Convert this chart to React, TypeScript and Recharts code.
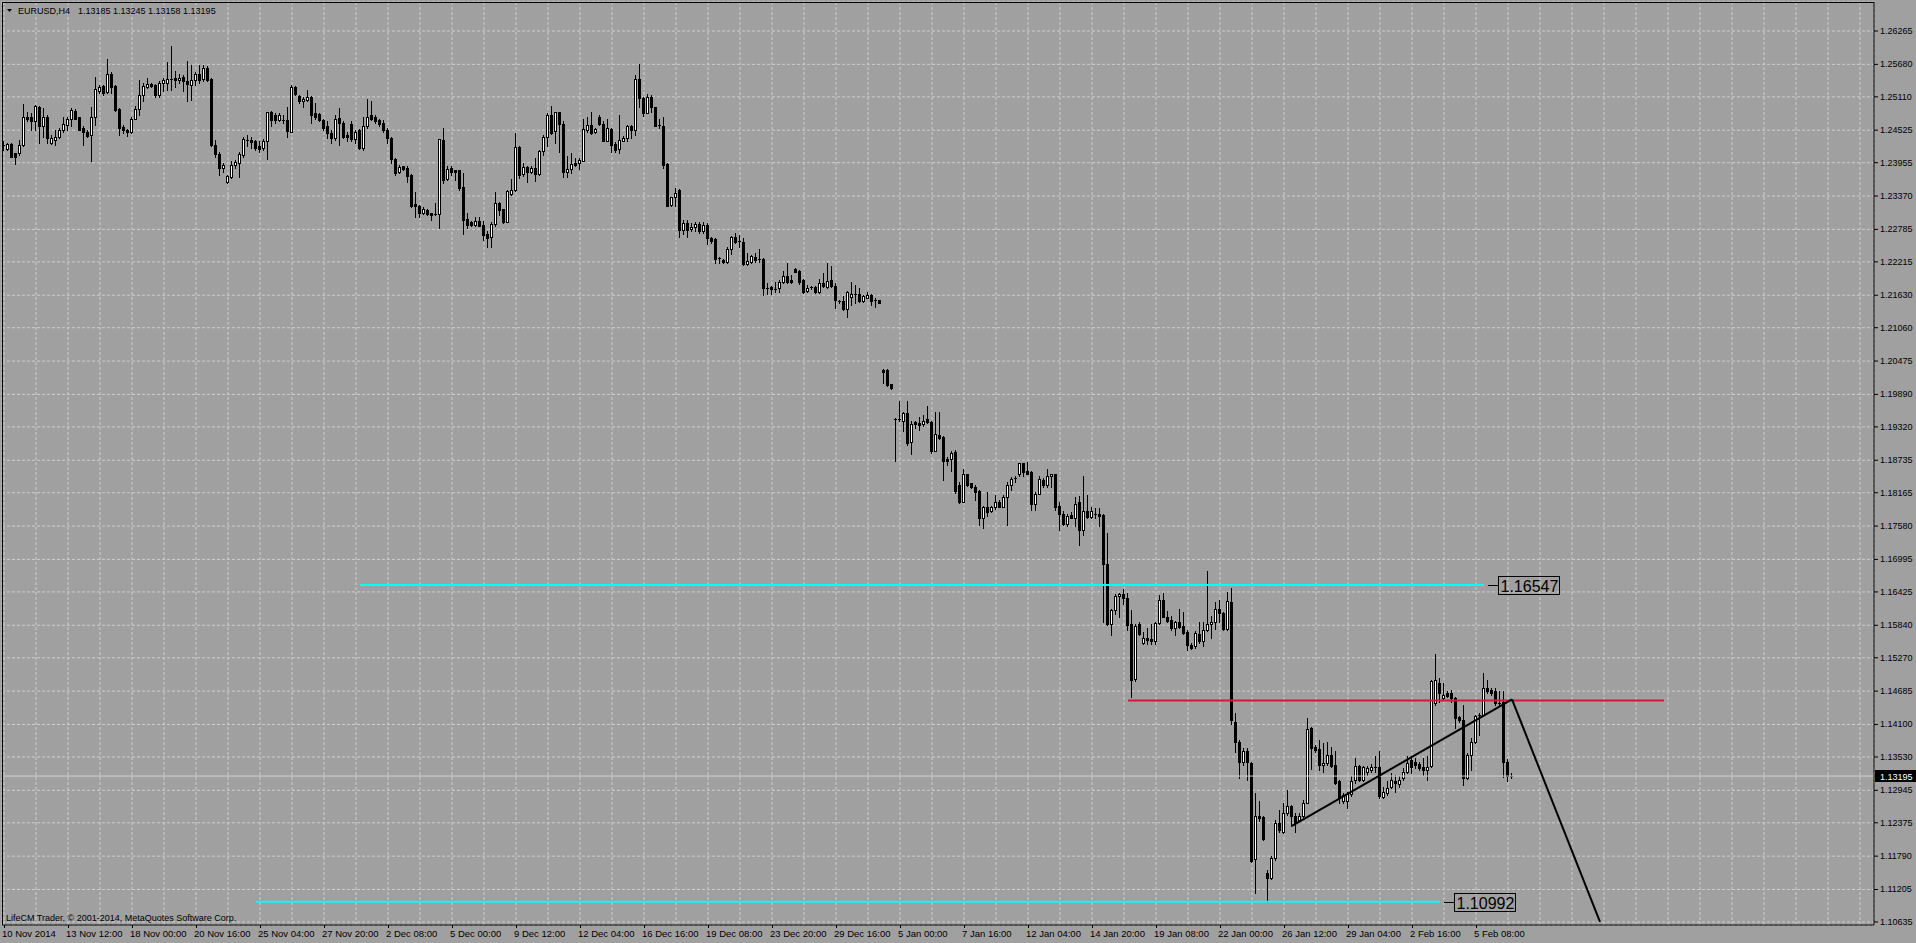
import React from "react";
import {
  ComposedChart,
  Bar,
  XAxis,
  YAxis,
  CartesianGrid,
  ReferenceLine,
  ReferenceDot,
} from "recharts";

const FONT = "Tahoma, 'Liberation Sans', Arial, sans-serif";

// H4 bars, each row is [open, high, low, close]
const novemberBars = [
  [1.2424, 1.2433, 1.2418, 1.2426], [1.2420, 1.2430, 1.2418, 1.2428], [1.2428, 1.2430, 1.2405, 1.2406],
  [1.2412, 1.2413, 1.2394, 1.2406], [1.2412, 1.2436, 1.2409, 1.2426], [1.2426, 1.2499, 1.2424, 1.2475],
  [1.2476, 1.2485, 1.2468, 1.2472], [1.2476, 1.2482, 1.2453, 1.2468], [1.2468, 1.2497, 1.2453, 1.2495],
  [1.2494, 1.2495, 1.2430, 1.2459], [1.2459, 1.2491, 1.2441, 1.2476], [1.2476, 1.2479, 1.2430, 1.2438],
  [1.2430, 1.2444, 1.2429, 1.2438], [1.2436, 1.2453, 1.2427, 1.2441], [1.2441, 1.2456, 1.2438, 1.2453],
  [1.2453, 1.2475, 1.2450, 1.2464], [1.2461, 1.2475, 1.2452, 1.2473], [1.2473, 1.2491, 1.2459, 1.2488],
  [1.2486, 1.2489, 1.2472, 1.2473], [1.2475, 1.2476, 1.2452, 1.2453], [1.2456, 1.2459, 1.2427, 1.2450],
  [1.2449, 1.2452, 1.2441, 1.2443], [1.2444, 1.2493, 1.2398, 1.2476], [1.2476, 1.2545, 1.2462, 1.2524],
  [1.2522, 1.2531, 1.2517, 1.2528], [1.2530, 1.2532, 1.2514, 1.2517], [1.2520, 1.2577, 1.2517, 1.2551],
  [1.2551, 1.2555, 1.2517, 1.2529], [1.2530, 1.2531, 1.2487, 1.2488], [1.2489, 1.2491, 1.2444, 1.2456],
  [1.2458, 1.2462, 1.2447, 1.2452], [1.2452, 1.2454, 1.2443, 1.2449], [1.2450, 1.2476, 1.2448, 1.2473],
  [1.2473, 1.2495, 1.2472, 1.2489], [1.2489, 1.2541, 1.2479, 1.2514], [1.2514, 1.2535, 1.2504, 1.2530],
  [1.2529, 1.2544, 1.2526, 1.2534], [1.2534, 1.2536, 1.2528, 1.2530], [1.2532, 1.2534, 1.2511, 1.2514],
  [1.2514, 1.2538, 1.2511, 1.2535], [1.2535, 1.2544, 1.2522, 1.2540], [1.2536, 1.2572, 1.2523, 1.2542],
  [1.2542, 1.2600, 1.2523, 1.2540], [1.2544, 1.2557, 1.2529, 1.2540], [1.2540, 1.2551, 1.2535, 1.2544],
  [1.2545, 1.2549, 1.2522, 1.2538], [1.2538, 1.2574, 1.2503, 1.2534], [1.2532, 1.2567, 1.2506, 1.2541],
  [1.2540, 1.2555, 1.2532, 1.2551], [1.2551, 1.2567, 1.2535, 1.2541], [1.2542, 1.2567, 1.2538, 1.2561],
  [1.2561, 1.2565, 1.2538, 1.2541], [1.2542, 1.2544, 1.2424, 1.2426], [1.2427, 1.2436, 1.2406, 1.2411],
  [1.2411, 1.2415, 1.2374, 1.2386], [1.2386, 1.2395, 1.2380, 1.2392], [1.2361, 1.2374, 1.2360, 1.2372],
  [1.2371, 1.2398, 1.2368, 1.2392], [1.2391, 1.2401, 1.2386, 1.2397], [1.2395, 1.2415, 1.2371, 1.2411],
  [1.2409, 1.2441, 1.2406, 1.2437], [1.2436, 1.2444, 1.2424, 1.2433], [1.2436, 1.2441, 1.2421, 1.2431],
  [1.2433, 1.2436, 1.2418, 1.2421], [1.2424, 1.2433, 1.2415, 1.2420], [1.2421, 1.2437, 1.2418, 1.2433],
  [1.2433, 1.2485, 1.2402, 1.2484], [1.2484, 1.2486, 1.2459, 1.2471], [1.2479, 1.2482, 1.2465, 1.2470],
  [1.2470, 1.2482, 1.2468, 1.2479], [1.2471, 1.2479, 1.2466, 1.2468], [1.2470, 1.2494, 1.2441, 1.2451],
  [1.2450, 1.2532, 1.2450, 1.2528], [1.2528, 1.2530, 1.2514, 1.2516], [1.2513, 1.2514, 1.2501, 1.2504],
  [1.2503, 1.2511, 1.2494, 1.2508], [1.2506, 1.2523, 1.2503, 1.2511], [1.2511, 1.2513, 1.2465, 1.2479],
  [1.2482, 1.2500, 1.2473, 1.2475], [1.2481, 1.2482, 1.2468, 1.2470], [1.2471, 1.2473, 1.2453, 1.2456],
  [1.2459, 1.2468, 1.2438, 1.2447], [1.2448, 1.2453, 1.2430, 1.2438], [1.2438, 1.2479, 1.2436, 1.2473],
  [1.2474, 1.2491, 1.2427, 1.2465], [1.2466, 1.2469, 1.2438, 1.2440], [1.2444, 1.2450, 1.2434, 1.2440],
  [1.2464, 1.2468, 1.2433, 1.2437],
];

const decemberBars = [
  [1.2437, 1.2453, 1.2430, 1.2450], [1.2452, 1.2454, 1.2419, 1.2421], [1.2421, 1.2476, 1.2418, 1.2459],
  [1.2459, 1.2508, 1.2456, 1.2476], [1.2479, 1.2503, 1.2471, 1.2473], [1.2476, 1.2479, 1.2465, 1.2468],
  [1.2470, 1.2473, 1.2460, 1.2464], [1.2465, 1.2471, 1.2450, 1.2452], [1.2453, 1.2456, 1.2430, 1.2438],
  [1.2438, 1.2441, 1.2395, 1.2402], [1.2402, 1.2403, 1.2374, 1.2377], [1.2379, 1.2392, 1.2377, 1.2388],
  [1.2389, 1.2390, 1.2382, 1.2384], [1.2386, 1.2389, 1.2361, 1.2372], [1.2374, 1.2376, 1.2318, 1.2320],
  [1.2323, 1.2344, 1.2301, 1.2320], [1.2320, 1.2322, 1.2300, 1.2308], [1.2307, 1.2317, 1.2306, 1.2314],
  [1.2313, 1.2314, 1.2303, 1.2305], [1.2307, 1.2308, 1.2295, 1.2303], [1.2306, 1.2325, 1.2303, 1.2304],
  [1.2305, 1.2437, 1.2281, 1.2437], [1.2436, 1.2456, 1.2360, 1.2365], [1.2367, 1.2389, 1.2365, 1.2384],
  [1.2386, 1.2389, 1.2374, 1.2380], [1.2382, 1.2383, 1.2365, 1.2380], [1.2382, 1.2383, 1.2348, 1.2351],
  [1.2352, 1.2377, 1.2271, 1.2295], [1.2296, 1.2308, 1.2281, 1.2287], [1.2291, 1.2294, 1.2285, 1.2287],
  [1.2287, 1.2300, 1.2285, 1.2294], [1.2294, 1.2301, 1.2284, 1.2285], [1.2287, 1.2294, 1.2260, 1.2268],
  [1.2271, 1.2275, 1.2247, 1.2264], [1.2265, 1.2292, 1.2247, 1.2288], [1.2288, 1.2344, 1.2284, 1.2325],
  [1.2325, 1.2327, 1.2304, 1.2313], [1.2314, 1.2315, 1.2290, 1.2291], [1.2292, 1.2348, 1.2291, 1.2346],
  [1.2341, 1.2367, 1.2339, 1.2348], [1.2347, 1.2447, 1.2345, 1.2423], [1.2423, 1.2424, 1.2368, 1.2374],
  [1.2376, 1.2395, 1.2372, 1.2388], [1.2388, 1.2390, 1.2361, 1.2379], [1.2380, 1.2389, 1.2378, 1.2386],
  [1.2386, 1.2403, 1.2364, 1.2376], [1.2376, 1.2418, 1.2374, 1.2416], [1.2416, 1.2444, 1.2409, 1.2440],
  [1.2440, 1.2482, 1.2424, 1.2479], [1.2479, 1.2495, 1.2446, 1.2448], [1.2451, 1.2485, 1.2430, 1.2484],
  [1.2484, 1.2485, 1.2414, 1.2464], [1.2464, 1.2468, 1.2371, 1.2380], [1.2380, 1.2407, 1.2370, 1.2385],
  [1.2384, 1.2412, 1.2378, 1.2393], [1.2395, 1.2403, 1.2389, 1.2392], [1.2395, 1.2403, 1.2384, 1.2400],
  [1.2399, 1.2473, 1.2398, 1.2454], [1.2453, 1.2476, 1.2450, 1.2462], [1.2462, 1.2484, 1.2446, 1.2448],
  [1.2450, 1.2457, 1.2448, 1.2455], [1.2476, 1.2479, 1.2462, 1.2464], [1.2464, 1.2468, 1.2433, 1.2434],
  [1.2434, 1.2472, 1.2433, 1.2457], [1.2455, 1.2456, 1.2415, 1.2426], [1.2428, 1.2431, 1.2415, 1.2418],
  [1.2419, 1.2479, 1.2413, 1.2436], [1.2434, 1.2442, 1.2433, 1.2439], [1.2438, 1.2462, 1.2433, 1.2460],
  [1.2460, 1.2462, 1.2438, 1.2452], [1.2452, 1.2549, 1.2444, 1.2542], [1.2542, 1.2569, 1.2494, 1.2509],
  [1.2509, 1.2511, 1.2478, 1.2483], [1.2483, 1.2516, 1.2482, 1.2510], [1.2510, 1.2514, 1.2485, 1.2493],
  [1.2493, 1.2494, 1.2459, 1.2460], [1.2461, 1.2473, 1.2456, 1.2459], [1.2460, 1.2476, 1.2386, 1.2392],
  [1.2393, 1.2395, 1.2319, 1.2320], [1.2322, 1.2336, 1.2320, 1.2335], [1.2335, 1.2351, 1.2319, 1.2343],
  [1.2347, 1.2350, 1.2266, 1.2278], [1.2278, 1.2295, 1.2270, 1.2290], [1.2290, 1.2295, 1.2266, 1.2277],
  [1.2279, 1.2290, 1.2275, 1.2283], [1.2282, 1.2292, 1.2275, 1.2288], [1.2288, 1.2292, 1.2272, 1.2275],
  [1.2275, 1.2292, 1.2272, 1.2286], [1.2286, 1.2290, 1.2252, 1.2263], [1.2264, 1.2266, 1.2255, 1.2258],
  [1.2262, 1.2264, 1.2219, 1.2226], [1.2228, 1.2230, 1.2219, 1.2226], [1.2225, 1.2226, 1.2219, 1.2221],
  [1.2222, 1.2247, 1.2219, 1.2244], [1.2244, 1.2267, 1.2235, 1.2266], [1.2265, 1.2272, 1.2254, 1.2257],
  [1.2259, 1.2269, 1.2248, 1.2256], [1.2257, 1.2263, 1.2216, 1.2217], [1.2218, 1.2237, 1.2216, 1.2223],
  [1.2222, 1.2234, 1.2219, 1.2231], [1.2230, 1.2237, 1.2222, 1.2224], [1.2227, 1.2244, 1.2222, 1.2225],
  [1.2226, 1.2228, 1.2164, 1.2175], [1.2176, 1.2184, 1.2165, 1.2174], [1.2178, 1.2180, 1.2166, 1.2174],
  [1.2174, 1.2187, 1.2168, 1.2172], [1.2175, 1.2190, 1.2169, 1.2186], [1.2187, 1.2206, 1.2184, 1.2197],
  [1.2197, 1.2219, 1.2184, 1.2187], [1.2189, 1.2199, 1.2184, 1.2186], [1.2209, 1.2210, 1.2203, 1.2204],
  [1.2206, 1.2208, 1.2182, 1.2186], [1.2190, 1.2192, 1.2167, 1.2169], [1.2171, 1.2181, 1.2169, 1.2175],
  [1.2178, 1.2179, 1.2174, 1.2175], [1.2178, 1.2180, 1.2167, 1.2168], [1.2168, 1.2192, 1.2167, 1.2184],
  [1.2184, 1.2202, 1.2178, 1.2180], [1.2178, 1.2219, 1.2175, 1.2188], [1.2190, 1.2215, 1.2178, 1.2180],
  [1.2180, 1.2184, 1.2141, 1.2155], [1.2153, 1.2155, 1.2149, 1.2151], [1.2153, 1.2162, 1.2137, 1.2138],
  [1.2139, 1.2171, 1.2125, 1.2169], [1.2160, 1.2186, 1.2146, 1.2165], [1.2165, 1.2181, 1.2149, 1.2163],
];

const januaryBars = [
  [1.2165, 1.2175, 1.2151, 1.2152], [1.2152, 1.2164, 1.2151, 1.2161], [1.2159, 1.2169, 1.2158, 1.2164],
  [1.2164, 1.2166, 1.2146, 1.2153], [1.2155, 1.2158, 1.2143, 1.2152], [1.2154, 1.2155, 1.2149, 1.2150],
  [1.2031, 1.2034, 1.2009, 1.2029], [1.2031, 1.2033, 1.2004, 1.2005], [1.2007, 1.2008, 1.1998, 1.2000],
  [1.1946, 1.1947, 1.1873, 1.1944], [1.1946, 1.1977, 1.1942, 1.1944], [1.1942, 1.1959, 1.1924, 1.1956],
  [1.1956, 1.1977, 1.1901, 1.1903], [1.1906, 1.1942, 1.1885, 1.1937], [1.1940, 1.1942, 1.1930, 1.1937],
  [1.1939, 1.1949, 1.1927, 1.1936], [1.1937, 1.1953, 1.1933, 1.1943], [1.1945, 1.1968, 1.1939, 1.1941],
  [1.1941, 1.1943, 1.1886, 1.1890], [1.1890, 1.1959, 1.1889, 1.1920], [1.1918, 1.1959, 1.1910, 1.1912],
  [1.1914, 1.1916, 1.1839, 1.1872], [1.1876, 1.1880, 1.1866, 1.1873], [1.1876, 1.1889, 1.1854, 1.1886],
  [1.1888, 1.1892, 1.1816, 1.1819], [1.1830, 1.1836, 1.1799, 1.1801], [1.1801, 1.1859, 1.1800, 1.1849],
  [1.1849, 1.1850, 1.1828, 1.1830], [1.1833, 1.1834, 1.1824, 1.1826], [1.1827, 1.1830, 1.1803, 1.1818],
  [1.1820, 1.1822, 1.1760, 1.1773], [1.1773, 1.1794, 1.1754, 1.1791], [1.1791, 1.1817, 1.1776, 1.1782],
  [1.1785, 1.1794, 1.1782, 1.1791], [1.1791, 1.1812, 1.1788, 1.1801], [1.1801, 1.1803, 1.1791, 1.1792],
  [1.1792, 1.1812, 1.1791, 1.1809], [1.1809, 1.1836, 1.1760, 1.1830], [1.1830, 1.1844, 1.1821, 1.1840],
  [1.1843, 1.1846, 1.1836, 1.1840], [1.1849, 1.1869, 1.1846, 1.1868], [1.1868, 1.1869, 1.1846, 1.1853],
  [1.1855, 1.1870, 1.1849, 1.1850], [1.1853, 1.1855, 1.1786, 1.1797], [1.1797, 1.1818, 1.1786, 1.1815],
  [1.1815, 1.1846, 1.1814, 1.1840], [1.1838, 1.1843, 1.1827, 1.1830], [1.1830, 1.1859, 1.1827, 1.1846],
  [1.1846, 1.1850, 1.1827, 1.1849], [1.1849, 1.1850, 1.1786, 1.1791], [1.1794, 1.1800, 1.1752, 1.1779],
  [1.1780, 1.1785, 1.1760, 1.1761], [1.1761, 1.1779, 1.1758, 1.1776], [1.1778, 1.1782, 1.1772, 1.1773],
  [1.1773, 1.1809, 1.1758, 1.1797], [1.1800, 1.1810, 1.1725, 1.1752], [1.1752, 1.1846, 1.1743, 1.1785],
  [1.1785, 1.1812, 1.1773, 1.1774], [1.1774, 1.1791, 1.1773, 1.1784], [1.1780, 1.1790, 1.1773, 1.1779],
  [1.1779, 1.1790, 1.1758, 1.1776], [1.1777, 1.1779, 1.1589, 1.1692], [1.1692, 1.1746, 1.1585, 1.1586],
  [1.1586, 1.1613, 1.1567, 1.1611], [1.1611, 1.1639, 1.1603, 1.1635], [1.1635, 1.1641, 1.1598, 1.1639],
  [1.1639, 1.1647, 1.1622, 1.1631], [1.1631, 1.1640, 1.1575, 1.1585], [1.1586, 1.1610, 1.1459, 1.1488],
  [1.1489, 1.1586, 1.1486, 1.1583], [1.1587, 1.1589, 1.1567, 1.1568], [1.1553, 1.1572, 1.1551, 1.1562],
  [1.1562, 1.1579, 1.1551, 1.1559], [1.1560, 1.1586, 1.1552, 1.1557], [1.1557, 1.1589, 1.1551, 1.1588],
  [1.1588, 1.1637, 1.1586, 1.1629], [1.1629, 1.1640, 1.1598, 1.1599], [1.1599, 1.1609, 1.1589, 1.1592],
  [1.1593, 1.1601, 1.1575, 1.1580], [1.1579, 1.1592, 1.1567, 1.1589], [1.1589, 1.1613, 1.1579, 1.1581],
  [1.1583, 1.1607, 1.1569, 1.1571], [1.1572, 1.1575, 1.1541, 1.1550], [1.1550, 1.1553, 1.1542, 1.1544],
  [1.1547, 1.1574, 1.1545, 1.1571], [1.1569, 1.1589, 1.1553, 1.1556], [1.1556, 1.1589, 1.1547, 1.1575],
  [1.1575, 1.1679, 1.1574, 1.1586], [1.1586, 1.1601, 1.1562, 1.1589], [1.1589, 1.1625, 1.1577, 1.1613],
  [1.1613, 1.1628, 1.1589, 1.1605], [1.1605, 1.1607, 1.1575, 1.1577], [1.1577, 1.1643, 1.1575, 1.1626],
  [1.1625, 1.1650, 1.1411, 1.1417], [1.1415, 1.1430, 1.1362, 1.1379], [1.1380, 1.1383, 1.1316, 1.1345],
  [1.1345, 1.1368, 1.1339, 1.1364], [1.1364, 1.1368, 1.1313, 1.1345], [1.1343, 1.1345, 1.1168, 1.1170],
  [1.1174, 1.1289, 1.1114, 1.1249], [1.1249, 1.1275, 1.1240, 1.1246], [1.1247, 1.1249, 1.1208, 1.1209],
  [1.1150, 1.1155, 1.1099, 1.1141], [1.1141, 1.1179, 1.1139, 1.1176], [1.1176, 1.1243, 1.1173, 1.1238],
  [1.1238, 1.1260, 1.1222, 1.1225], [1.1222, 1.1272, 1.1219, 1.1254], [1.1254, 1.1295, 1.1251, 1.1267],
  [1.1267, 1.1269, 1.1231, 1.1249], [1.1250, 1.1254, 1.1222, 1.1237], [1.1243, 1.1254, 1.1240, 1.1249],
  [1.1249, 1.1278, 1.1247, 1.1273], [1.1273, 1.1421, 1.1272, 1.1402], [1.1403, 1.1406, 1.1331, 1.1368],
  [1.1370, 1.1374, 1.1362, 1.1365], [1.1367, 1.1383, 1.1330, 1.1339], [1.1339, 1.1377, 1.1327, 1.1343],
  [1.1343, 1.1380, 1.1339, 1.1357], [1.1357, 1.1371, 1.1335, 1.1337], [1.1339, 1.1363, 1.1306, 1.1307],
  [1.1310, 1.1313, 1.1272, 1.1281], [1.1275, 1.1289, 1.1273, 1.1287], [1.1275, 1.1292, 1.1263, 1.1288],
  [1.1288, 1.1319, 1.1284, 1.1310], [1.1312, 1.1351, 1.1307, 1.1337], [1.1337, 1.1339, 1.1310, 1.1313],
  [1.1313, 1.1337, 1.1310, 1.1335], [1.1326, 1.1337, 1.1322, 1.1334], [1.1330, 1.1341, 1.1327, 1.1336],
  [1.1336, 1.1354, 1.1327, 1.1333], [1.1336, 1.1363, 1.1281, 1.1284], [1.1283, 1.1301, 1.1281, 1.1292],
  [1.1290, 1.1310, 1.1287, 1.1298], [1.1301, 1.1325, 1.1298, 1.1312],
];

const februaryBars = [
  [1.1310, 1.1322, 1.1292, 1.1307], [1.1306, 1.1319, 1.1301, 1.1313], [1.1316, 1.1333, 1.1313, 1.1327],
  [1.1327, 1.1354, 1.1325, 1.1342], [1.1347, 1.1354, 1.1325, 1.1336], [1.1345, 1.1351, 1.1333, 1.1339],
  [1.1341, 1.1345, 1.1330, 1.1333], [1.1336, 1.1351, 1.1322, 1.1330], [1.1330, 1.1354, 1.1313, 1.1336],
  [1.1337, 1.1488, 1.1336, 1.1487], [1.1447, 1.1534, 1.1444, 1.1488], [1.1483, 1.1491, 1.1450, 1.1465],
  [1.1456, 1.1482, 1.1453, 1.1462], [1.1466, 1.1468, 1.1458, 1.1460], [1.1466, 1.1471, 1.1450, 1.1456],
  [1.1456, 1.1459, 1.1403, 1.1421], [1.1423, 1.1425, 1.1415, 1.1418], [1.1418, 1.1444, 1.1304, 1.1316],
  [1.1316, 1.1360, 1.1314, 1.1357], [1.1357, 1.1386, 1.1330, 1.1380], [1.1380, 1.1427, 1.1377, 1.1425],
  [1.1424, 1.1430, 1.1392, 1.1427], [1.1427, 1.1500, 1.1424, 1.1474], [1.1474, 1.1488, 1.1465, 1.1468],
  [1.1471, 1.1474, 1.1462, 1.1465], [1.1468, 1.1474, 1.1444, 1.1447], [1.1448, 1.1468, 1.1444, 1.1446],
  [1.1450, 1.1468, 1.1318, 1.1345], [1.1345, 1.1349, 1.1310, 1.1319], [1.13185, 1.13245, 1.13158, 1.13195],
];

// one label every 16 bars
const timeLabels = [
  "10 Nov 2014", "13 Nov 12:00", "18 Nov 00:00", "20 Nov 16:00", "25 Nov 04:00", "27 Nov 20:00",
  "2 Dec 08:00", "5 Dec 00:00", "9 Dec 12:00", "12 Dec 04:00", "16 Dec 16:00", "19 Dec 08:00",
  "23 Dec 20:00", "29 Dec 16:00", "5 Jan 00:00", "7 Jan 16:00", "12 Jan 04:00", "14 Jan 20:00",
  "19 Jan 08:00", "22 Jan 00:00", "26 Jan 12:00", "29 Jan 04:00", "2 Feb 16:00", "5 Feb 08:00",
];

const priceTicks = [
  1.26265, 1.2568, 1.2511, 1.24525, 1.23955, 1.2337, 1.22785, 1.22215, 1.2163, 1.2106,
  1.20475, 1.1989, 1.1932, 1.18735, 1.18165, 1.1758, 1.16995, 1.16425, 1.1584, 1.1527,
  1.14685, 1.141, 1.1353, 1.12945, 1.12375, 1.1179, 1.11205, 1.10635,
];

const symbolName = "EURUSD,H4";
const lastQuote = [1.13185, 1.13245, 1.13158, 1.13195];
const bidPrice = 1.13195;
const footerText = "LifeCM Trader, \u00a9 2001-2014, MetaQuotes Software Corp.";

// cyan horizontal levels with their price tags
const levelLines = [
  { price: 1.16547, from: 89, to: 370 },
  { price: 1.10992, from: 63, to: 359 },
];
const resistanceLine = { price: 1.1452, from: 281, to: 415 };
const trendPoints = [
  { k: 322, price: 1.1232 },
  { k: 377, price: 1.1454 },
  { k: 399, price: 1.10635 },
];

const SLOTS = 468;
const bars = [...novemberBars, ...decemberBars, ...januaryBars, ...februaryBars];
const data = Array.from({ length: SLOTS }, (_, k) => {
  const b = bars[k];
  if (!b) return { k };
  return { k, open: b[0], high: b[1], low: b[2], close: b[3], range: [b[2], b[1]] };
});
const gridTicks = Array.from({ length: 59 }, (_, i) => i * 8);

function Candle(props: any) {
  const { x, y, height, payload } = props;
  if (!payload || payload.open == null || !isFinite(y)) return null;
  const { open, high, low, close } = payload;
  const top = Math.min(y, y + height);
  const h = Math.abs(height);
  const scale = high > low ? h / (high - low) : 0;
  const py = (p: number) => top + (high - p) * scale;
  const x0 = Math.round(x);
  const wx = x0 + 1.5;
  const bTop = Math.round(py(Math.max(open, close)));
  const bBot = Math.round(py(Math.min(open, close)));
  const up = close >= open;
  let body;
  if (bBot - bTop < 2) {
    body = <rect x={x0} y={bTop} width={3} height={1} fill="#000" />;
  } else if (up) {
    body = (
      <rect x={x0 + 0.5} y={bTop + 0.5} width={2} height={bBot - bTop} fill="#fff" stroke="#000" strokeWidth={1} />
    );
  } else {
    body = <rect x={x0} y={bTop} width={3} height={bBot - bTop + 1} fill="#000" />;
  }
  return (
    <g>
      <line x1={wx} x2={wx} y1={Math.round(top)} y2={Math.round(top + h) + 1} stroke="#000" strokeWidth={1} />
      {body}
    </g>
  );
}

function TimeTick({ x, y, payload }: any) {
  const v = payload.value as number;
  if (v % 16 !== 0) return null;
  const label = timeLabels[v / 16];
  if (!label) return null;
  const tx = Math.round(x) + 0.5;
  return (
    <g>
      <line x1={tx} x2={tx} y1={y} y2={y + 3} stroke="#000" />
      <text x={x - 2} y={y + 12} fontSize={9.5} fontFamily={FONT} fill="#000">
        {label}
      </text>
    </g>
  );
}

function PriceTick({ x, y, payload }: any) {
  return (
    <text x={x} y={y + 3} fontSize={9} fontFamily={FONT} fill="#000">
      {Number(payload.value).toFixed(5)}
    </text>
  );
}

function LevelTag({ cx, cy, text }: any) {
  if (cx == null || cy == null) return null;
  const yy = Math.round(cy) + 0.5;
  const bx = Math.round(cx) + 14.5;
  return (
    <g>
      <line x1={cx + 4} x2={bx} y1={yy} y2={yy} stroke="#000" />
      <rect x={bx} y={yy - 9} width={61} height={18} fill="none" stroke="#000" />
      <text x={bx + 2} y={yy + 6} fontSize={16} fontFamily={FONT} fill="#000">
        {text}
      </text>
    </g>
  );
}

function BidTag({ cx, cy }: any) {
  if (cx == null || cy == null) return null;
  const yy = Math.round(cy);
  return (
    <g>
      <rect x={cx + 3} y={yy - 6} width={42} height={12} fill="#000" />
      <text x={cx + 8} y={yy + 3.5} fontSize={9} fontFamily={FONT} fill="#fff">
        {bidPrice.toFixed(5)}
      </text>
    </g>
  );
}

export default function App() {
  return (
    <div style={{ position: "relative", width: 1916, height: 943, background: "#a0a0a0", overflow: "hidden" }}>
      <style>{"body{margin:0}"}</style>
      <ComposedChart
        width={1916}
        height={943}
        data={data}
        margin={{ top: 2, right: 0, bottom: 0, left: 2 }}
        barCategoryGap={0}
        barGap={0}
      >
        <CartesianGrid stroke="#cdcdcd" strokeDasharray="3 2" />
        <XAxis
          dataKey="k"
          type="category"
          ticks={gridTicks}
          interval={0}
          height={18}
          tick={<TimeTick />}
          tickLine={false}
          tickSize={0}
          tickMargin={0}
          axisLine={{ stroke: "#000" }}
        />
        <YAxis
          orientation="right"
          width={42}
          domain={[1.10582, 1.26774]}
          allowDataOverflow
          ticks={priceTicks}
          interval={0}
          tick={<PriceTick />}
          tickSize={4}
          tickMargin={2}
          tickLine={{ stroke: "#000" }}
          axisLine={{ stroke: "#000" }}
        />
        <ReferenceLine y={bidPrice} stroke="#d4d4d4" strokeWidth={1} />
        <Bar dataKey="range" shape={<Candle />} isAnimationActive={false} />
        {levelLines.map((l) => (
          <ReferenceLine
            key={l.price}
            segment={[
              { x: l.from, y: l.price },
              { x: l.to, y: l.price },
            ]}
            stroke="#00ffff"
            strokeWidth={2}
          />
        ))}
        <ReferenceLine
          segment={[
            { x: resistanceLine.from, y: resistanceLine.price },
            { x: resistanceLine.to, y: resistanceLine.price },
          ]}
          stroke="#dc143c"
          strokeWidth={2}
        />
        {trendPoints.slice(1).map((p, i) => (
          <ReferenceLine
            key={p.k}
            segment={[
              { x: trendPoints[i].k, y: trendPoints[i].price },
              { x: p.k, y: p.price },
            ]}
            stroke="#000"
            strokeWidth={2}
          />
        ))}
        {levelLines.map((l) => (
          <ReferenceDot
            key={"tag" + l.price}
            x={l.to}
            y={l.price}
            r={0}
            shape={(p: any) => <LevelTag {...p} text={l.price.toFixed(5)} />}
          />
        ))}
        <ReferenceDot x={SLOTS - 1} y={bidPrice} r={0} shape={(p: any) => <BidTag {...p} />} />
      </ComposedChart>
      <svg
        width={1916}
        height={943}
        style={{ position: "absolute", left: 0, top: 0, pointerEvents: "none" }}
      >
        <line x1={2.5} x2={2.5} y1={2} y2={925} stroke="#000" />
        <line x1={2} x2={1874} y1={2.5} y2={2.5} stroke="#000" />
        <polygon points="7,9 12,9 9.5,12" fill="#000" />
        <text x={18} y={14} fontSize={9} fontFamily={FONT} fill="#000">
          {symbolName}
        </text>
        <text x={78} y={14} fontSize={9} fontFamily={FONT} fill="#000">
          {lastQuote.map((v) => v.toFixed(5)).join(" ")}
        </text>
        <text x={6} y={921} fontSize={9} fontFamily={FONT} fill="#000">
          {footerText}
        </text>
      </svg>
    </div>
  );
}
